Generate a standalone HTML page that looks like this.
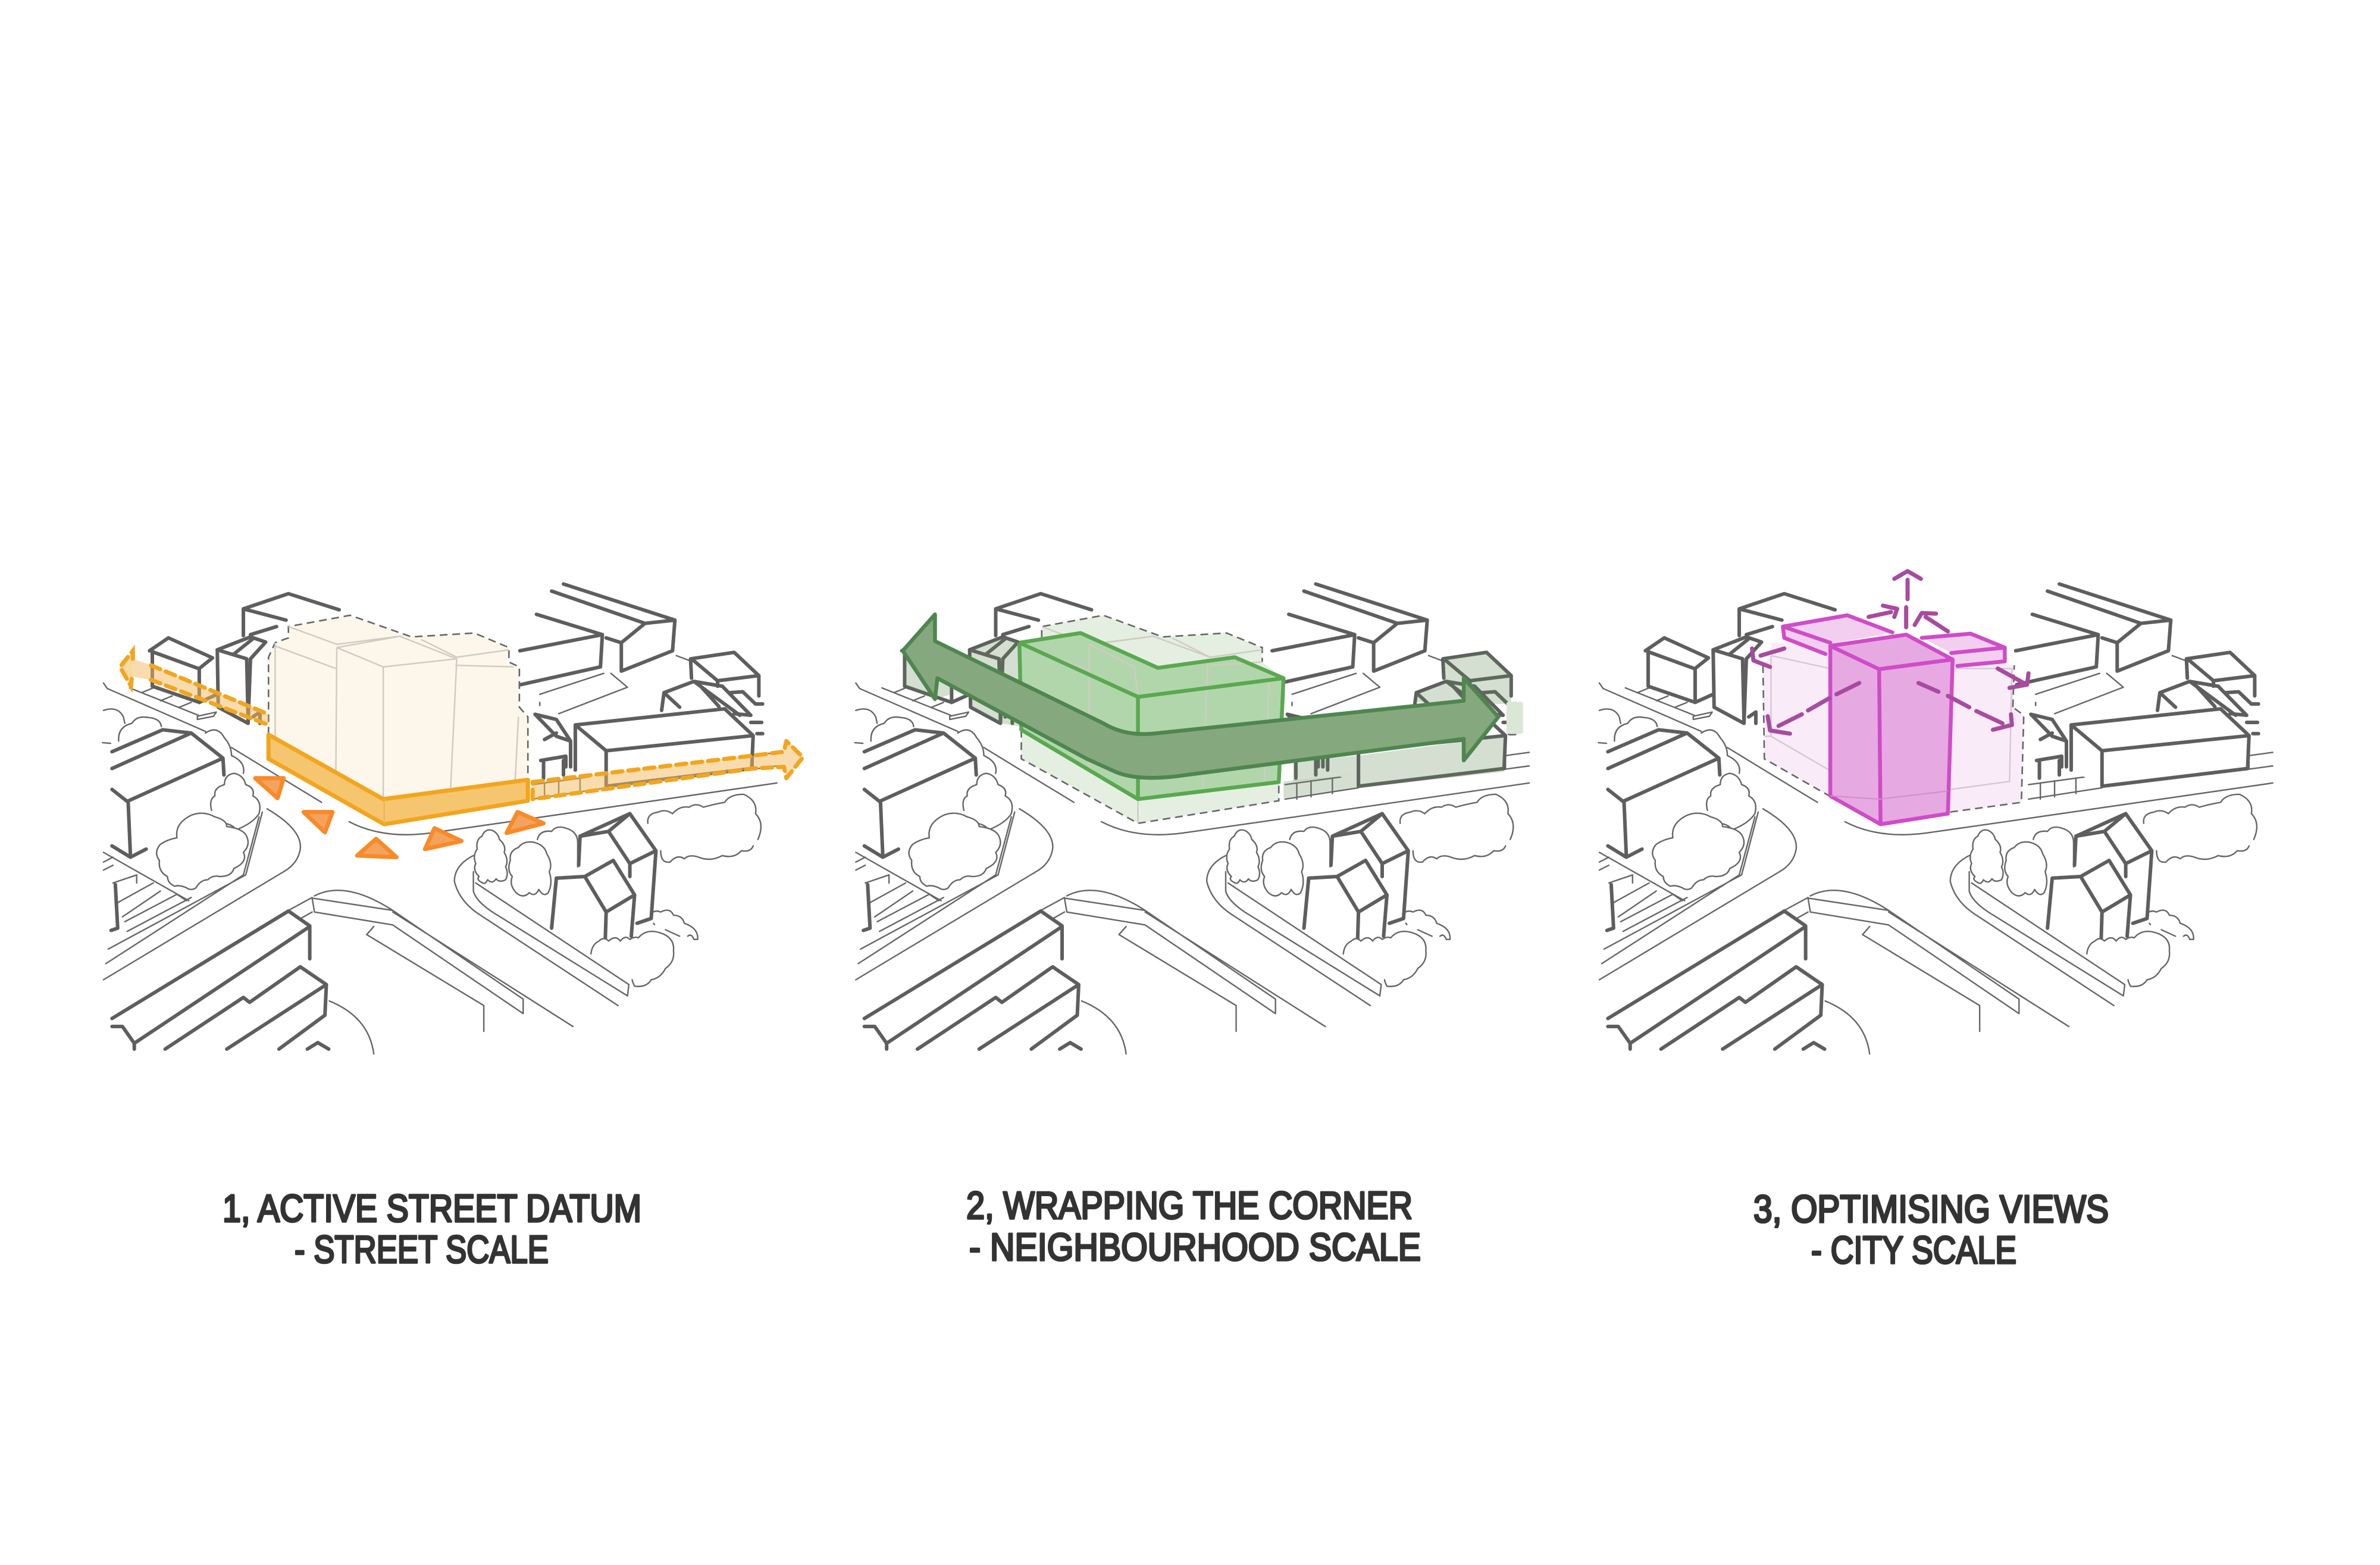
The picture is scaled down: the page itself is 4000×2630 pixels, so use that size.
<!DOCTYPE html>
<html><head><meta charset="utf-8">
<style>
html,body{margin:0;padding:0;background:#fff}
svg{display:block}
svg *{vector-effect:non-scaling-stroke}
.wf{fill:#fff;stroke:none}
.T{fill:none;stroke:#5e5e5e;stroke-width:6;stroke-linecap:round;stroke-linejoin:round}
.t{fill:none;stroke:#666;stroke-width:2.4;stroke-linecap:round;stroke-linejoin:round}
.tw{fill:#fff;stroke:#666;stroke-width:2.4;stroke-linecap:round;stroke-linejoin:round}
.Tw{fill:#fff;stroke:#5e5e5e;stroke-width:6;stroke-linecap:round;stroke-linejoin:round}
.d{stroke:#666;stroke-width:2.6;stroke-dasharray:13 8;fill:none}
.m{fill:none;stroke:#cfcbc3;stroke-width:2.4}
text{font-family:"Liberation Sans",sans-serif;fill:#333;stroke:#333;stroke-width:3.6;stroke-linejoin:round;font-size:65px}
</style></head><body>
<svg xmlns="http://www.w3.org/2000/svg" width="4000" height="2630" viewBox="0 0 4000 2630">
<rect width="4000" height="2630" fill="#fff"/>
<defs>
<g id="base">
 <!-- road thin lines -->
 <path class="t" d="M30,365L38,382L245,515M300,565L370,628L490,735M548,795Q620,850 720,830L900,792L1450,675"/>
 <path class="t" d="M85,380L230,465M110,395L135,380M150,420L175,405M190,440L215,425M228,468L268,455L262,468L228,478Z"/>
 <path class="t" d="M375,755Q450,820 445,880Q440,925 410,950L30,1285"/>
 <path class="t" d="M365,765L330,960L40,1190M358,780L325,960L35,1235"/>
 <path class="t" d="M475,1025Q540,975 640,1070L915,1345L915,1390L640,1115L475,1075L470,1032L640,1070M420,1070L470,1030M470,1075L440,1100M640,1075L1020,1430"/>
 <path class="t" d="M600,1120L585,1145L832,1365L832,1445"/>
 <path class="t" d="M810,900Q770,930 770,980Q780,1040 820,1080L1115,1365M810,950L810,1010Q815,1040 850,1075L1135,1335L1138,1300L815,985"/>
 <path class="t" d="M505,1350Q590,1400 600,1515"/>
 <path class="t" d="M30,890L210,1040M30,920L50,905M30,945L50,930M50,985L100,960L100,985M55,1050L135,985M70,1090L150,1010M75,1105L185,1020L205,1040M80,1135L215,1030"/>
 <path class="t" d="M1085,335L950,400M1100,335L1135,378L990,460M950,425L950,435M1238,280L1265,295"/>
 <path class="t" d="M935,680L1085,650M935,725L1090,690M960,675L960,725M990,668L990,718M1035,660L1035,708M1400,590L1450,580M1400,632L1450,622M1400,590L1400,632"/>
 <!-- trees -->
 <path class="t" d="M62,545Q60,500 90,490Q100,465 125,472Q150,475 152,500M30,450Q60,435 72,470L75,490M28,550L45,552M245,520Q270,495 285,535Q300,560 300,590Q330,610 325,645"/>
 <path class="tw" d="M258,760Q252,725 265,715Q262,690 285,680Q285,650 305,645Q325,650 330,680Q350,690 345,715Q365,730 358,770Q345,800 310,820Q300,800 280,800"/>
 <path class="tw" d="M205,1000Q190,990 180,995Q165,985 165,965Q145,950 148,915Q135,890 150,865Q165,850 185,845Q180,800 215,775Q240,760 265,780Q290,790 290,810Q320,815 330,835Q342,865 325,890Q335,920 305,940Q300,965 275,965Q260,960 250,975Q235,975 225,1000Q215,1010 205,1000Z"/>
 <path class="t" d="M1178,800Q1175,770 1200,765Q1215,755 1230,770Q1245,745 1265,750Q1280,735 1295,750Q1320,740 1340,735Q1350,710 1380,710Q1410,730 1405,770Q1425,800 1410,850M1400,870Q1395,890 1375,885Q1360,910 1335,900Q1310,920 1285,905Q1265,895 1255,910Q1240,895 1225,920Q1205,925 1205,885"/>
 <path class="tw" d="M945,850Q950,820 975,825Q985,805 1005,815Q1030,825 1030,860L1030,935"/>
 <path class="tw" d="M830,985Q815,975 822,965Q808,945 815,925Q808,900 818,880Q815,850 828,840Q835,815 850,822Q862,830 865,850Q880,870 875,890Q885,915 878,935Q885,955 878,975Q865,985 858,972Q850,990 840,975Q835,990 830,985Z"/>
 <path class="tw" d="M900,1015Q885,990 892,965Q880,945 888,915Q885,885 905,875Q915,855 935,858Q960,865 965,895Q978,925 970,950Q978,985 968,1015Q958,1030 948,1005Q940,1030 928,1015Q915,1035 900,1015Z"/>
 <path class="t" d="M1178,1090Q1190,1065 1205,1075Q1225,1060 1232,1085Q1250,1085 1255,1110Q1285,1125 1283,1160L1275,1160Q1270,1140 1262,1150M1215,1130L1245,1150M1190,1110L1192,1114"/>
 <!-- lower houses -->
 <path class="wf" d="M1035,840L1140,770L1195,885L1185,1095L1155,1110L1100,1160L1035,1000Z"/>
 <path class="T" d="M1032,930L1035,840L1140,770L1195,885L1185,1095L1155,1110M1035,840L1095,825L1140,925L1195,885M1095,825L1140,770M1140,925L1140,965"/>
 <path class="wf" d="M985,970L1105,915L1150,1022L1143,1160L1090,1190L975,1125Z"/>
 <path class="T" d="M975,1125L985,970L1045,965L1090,1075L1150,1022L1143,1150M1045,965L1105,915L1150,1022M1090,1075L1088,1170"/>
 <path class="tw" d="M1058,1205Q1060,1175 1075,1165Q1085,1150 1095,1165Q1110,1145 1120,1165Q1130,1145 1140,1160Q1150,1150 1158,1155Q1175,1125 1205,1140Q1235,1155 1232,1195Q1235,1230 1215,1250Q1205,1280 1185,1285Q1175,1310 1150,1305Q1145,1290 1145,1285"/>
 <!-- upper buildings -->
 <path class="T" d="M325,218L325,135L420,88L527,138M325,135L415,170M340,215L395,190"/>
 <path class="Tw" d="M127,265L167,225L260,287L232,320L232,425L133,375L133,265Z"/>
 <path class="T" d="M133,268L230,320M232,425L270,400"/>
 <path class="Tw" d="M270,262L340,222L372,238L340,290L335,490L272,440Z"/>
 <path class="T" d="M270,262L332,290M305,275L345,228M332,290L335,480M345,470L360,455L360,490"/>
 <path class="T" d="M943,152L1082,215L1078,315L910,370M1082,215L908,265"/>
 <path class="T" d="M975,80L1172,180L1235,170L1230,265L1122,328L1122,240L1172,180M1000,58L1235,170M1090,225L1122,240"/>
 <path class="T" d="M1270,350L1268,290L1360,270L1412,342L1325,358L1270,290M1412,342L1412,405M1325,358L1325,375"/>
 <path class="T" d="M1207,450L1212,395L1275,360L1372,465M1212,395L1245,440M1275,360L1335,375L1395,465M1285,368L1328,438M1350,395L1378,392L1405,430L1420,430M1360,460L1395,465M1395,487L1418,487M1408,522L1420,522"/>
 <path class="wf" d="M1025,495L1340,445L1400,528L1397,630L1090,685L1025,635Z"/>
 <path class="T" d="M1025,635L1025,495L1340,445L1400,528L1397,630L1090,685L1090,575L1025,495M1090,575L1400,528"/>
 <path class="T" d="M940,462L985,478L1015,545L1015,625M940,462L985,530L1015,545M985,520L960,540M952,605L1005,592L1005,625M958,605L958,660M1000,605L1000,650"/>
 <!-- lower-left buildings -->
 <path class="wf" d="M48,578L155,510L215,520L282,598L85,732L85,905L48,870Z"/>
 <path class="T" d="M48,578L155,510L215,520L282,598L284,650M48,630L215,520M282,598L80,732L48,695M82,732L87,905L48,870M87,905L120,880"/>
 <path class="T" d="M55,990L60,1125M46,1132L60,1125"/>
 <path class="wf" d="M50,1410L420,1072L465,1118L505,1300L505,1500L50,1500Z"/>
 <path class="T" d="M48,1405L420,1072L465,1118L465,1220M465,1120L95,1482L95,1500M48,1430L70,1430L95,1482"/>
 <path class="T" d="M160,1500L325,1340L338,1355L445,1245L500,1300L290,1500M500,1300L497,1395L400,1500M460,1500L482,1480L505,1500"/>
</g>
</defs>

<!-- PANEL 1 -->
<g transform="matrix(.797,0,0,.542,150,950)">
 <use href="#base"/>
 <path d="M378,525L378,285L392,240L420,225L420,190L550,155L680,222L812,210L885,255L885,300L907,315L907,440L925,470L925,665L622,725Z" fill="#fdf6ea"/>
 <path class="d" d="M378,525L378,285L392,240L420,225L420,190L550,155L680,222L812,210L885,255L885,300L907,315L907,440L925,470L925,665"/>
 <path class="m" d="M392,240L392,530M392,250L520,320M420,190L522,245L655,220M522,255L655,220L775,290L620,315L522,255M620,315L620,722M522,255L520,640M775,290L762,690M700,230L775,285L885,262M772,310L895,315M905,470L898,670"/>
 <path d="M92,290L130,310L378,462L378,495L130,355L90,345Z" fill="#f3b95b" fill-opacity=".5"/>
 <path d="M92,265L65,315L88,375L90,345L92,290Z" fill="#f8d9a0"/>
 <path fill="none" stroke="#f2a51e" stroke-width="7" stroke-dasharray="17 10" stroke-linecap="round" d="M130,310L378,462M130,355L378,495M92,290L92,265L65,315L88,375L90,345"/>
 <path d="M935,672L1400,590L1465,578L1470,545L1505,595L1470,660L1465,625L1400,630L935,725Z" fill="#f3b95b" fill-opacity=".5"/>
 <path fill="none" stroke="#f2a51e" stroke-width="7" stroke-dasharray="17 10" stroke-linecap="round" stroke-linejoin="round" d="M935,672L1400,590L1465,578L1470,545L1505,595L1470,660L1465,625L1400,630L935,725Z"/>
 <path d="M378,525L378,600L622,803L925,730L925,665L620,725Z" fill="#f6c56f" stroke="#f2a51e" stroke-width="7" stroke-linejoin="round"/>
 <path d="M622,725L622,803" stroke="#e9b25c" stroke-width="2"/>
 <g fill="#f4a35e" stroke="#f98a28" stroke-width="7" stroke-linejoin="round">
  <path d="M350,660L410,660L397,722Z"/><path d="M452,765L513,765L497,828Z"/><path d="M605,848L648,905L565,900Z"/><path d="M728,815L785,855L708,880Z"/><path d="M903,765L958,800L880,830Z"/>
 </g>
</g>

<!-- PANEL 2 -->
<g transform="matrix(.797,0,0,.542,1420,950)">
 <g transform="translate(-7,0)"><use href="#base"/></g>
 <g fill="#5f8a55" fill-opacity=".27">
  <path d="M125,265L125,370L190,415L225,400L225,300Z"/>
  <path d="M265,262L340,222L370,240L370,500L330,490L268,440Z"/>
  <path d="M925,670L1080,650L1080,690L925,722Z"/>
  <path d="M1083,590L1390,530L1390,640L1083,690Z"/>
  <path d="M945,610L1080,590L1080,650L945,670Z"/>
  <path d="M1262,290L1355,270L1405,342L1405,430L1330,430L1262,350Z"/>
  <path d="M1205,400L1270,360L1320,425L1205,425Z"/>
 </g>
 <rect x="1395" y="423" width="35" height="100" rx="6" fill="#dbe7d6"/>
 <path d="M372,280L372,600L618,800L915,730L915,690L925,350L880,300L880,255L805,210L670,222L545,155L415,190L415,225Z" fill="#e4efe1"/>
 <path class="d" d="M415,225L415,190L545,155L670,222L805,210L880,255L880,300M372,510L372,600L618,800L915,730L915,680"/>
 <path class="m" d="M415,190L515,245L650,220M550,240L650,220L770,285M690,225L770,285L880,262M618,730L618,800"/>
 <path d="M368,240L497,210L660,318L822,285L925,350L915,672L618,725L372,510Z" fill="#b2d6ac"/>
 <path class="m" d="M385,255L515,325M515,245L515,640M515,245L610,315L618,400M765,290L755,690M770,310L880,300M895,345L885,665"/>
 <path fill="none" stroke="#5aa850" stroke-width="6.5" stroke-linejoin="round" d="M368,240L497,210L660,318L822,285L925,350L618,408L368,240M368,240L372,510L618,725L915,672L925,350M618,408L618,725"/>
 <path d="M122,265L190,152L190,235L545,490Q590,530 650,522L1305,420L1305,350L1378,470L1305,605L1305,538L720,650Q620,672 570,640L510,600L195,350L190,415Z" fill="#86a87e" stroke="#4f8650" stroke-width="6.5" stroke-linejoin="round"/>
</g>

<!-- PANEL 3 -->
<g transform="matrix(.797,0,0,.542,2680,950)">
 <g transform="translate(-20,0)"><use href="#base"/></g>
 <path d="M358,600L355,310L372,280L372,240L497,240L755,292L885,310L882,440L905,465L900,735L750,765L603,803L495,715Z" fill="#f9ecf8"/>
 <path class="d" d="M355,310L358,600L495,715M750,765L900,735L905,465L882,440M882,440L885,310"/>
 <path fill="none" stroke="#d6c7d5" stroke-width="2.4" d="M372,280L372,530L600,725L875,670L880,320L760,320M372,280L497,320M358,530L372,530"/>
 <path d="M397,190L533,155L628,208L497,245L487,275L400,225Z" fill="#f2cfee"/>
 <path d="M690,225L793,212L865,255L865,298L755,312L752,272Z" fill="#f2cfee"/>
 <path fill="none" stroke="#cf4cc8" stroke-width="6.5" stroke-linejoin="round" stroke-linecap="round" d="M628,208L533,155L397,190L400,225L487,275M397,190L497,240M690,225L793,212L865,255L865,298L765,312M752,272L865,255"/>
 <path d="M497,250L657,215L755,292L745,770L603,803L497,715Z" fill="#e7a9e1"/>
 <path fill="none" stroke="#cf4cc8" stroke-width="6.5" stroke-linejoin="round" d="M497,250L657,215L755,292L600,322ZM497,250L497,715L603,803L745,770L755,292M600,322L603,803"/>
 <path d="M497,715L600,725L745,700" fill="none" stroke="#d38ccd" stroke-width="2"/>
 <g fill="none" stroke="#a84ba0" stroke-width="7" stroke-linecap="round" stroke-linejoin="round">
  <path d="M657,192L657,130M660,105L660,45M632,42L660,18L688,42"/>
  <path d="M578,160L625,145M608,125L638,135L632,160"/>
  <path d="M745,205L698,160M675,185L690,148L720,150"/>
  <path d="M400,258L350,280M332,258L335,295L370,315"/>
  <path d="M850,320L905,365M915,335L912,370L875,380"/>
  <path d="M558,365L510,400M495,412L450,450M437,462L388,498M365,468L370,512L412,522"/>
  <path d="M683,365L725,392M745,405L790,440M805,452L860,490M878,462L880,495L840,510"/>
 </g>
</g>

<!-- labels -->
<text x="374" y="2053" textLength="704" lengthAdjust="spacingAndGlyphs">1, ACTIVE STREET DATUM</text>
<text x="495" y="2122" textLength="427" lengthAdjust="spacingAndGlyphs">- STREET SCALE</text>
<text x="1624" y="2048" textLength="750" lengthAdjust="spacingAndGlyphs">2, WRAPPING THE CORNER</text>
<text x="1629" y="2118" textLength="759" lengthAdjust="spacingAndGlyphs">- NEIGHBOURHOOD SCALE</text>
<text x="2947" y="2054" textLength="597" lengthAdjust="spacingAndGlyphs">3, OPTIMISING VIEWS</text>
<text x="3044" y="2123" textLength="345" lengthAdjust="spacingAndGlyphs">- CITY SCALE</text>
</svg>
</body></html>
